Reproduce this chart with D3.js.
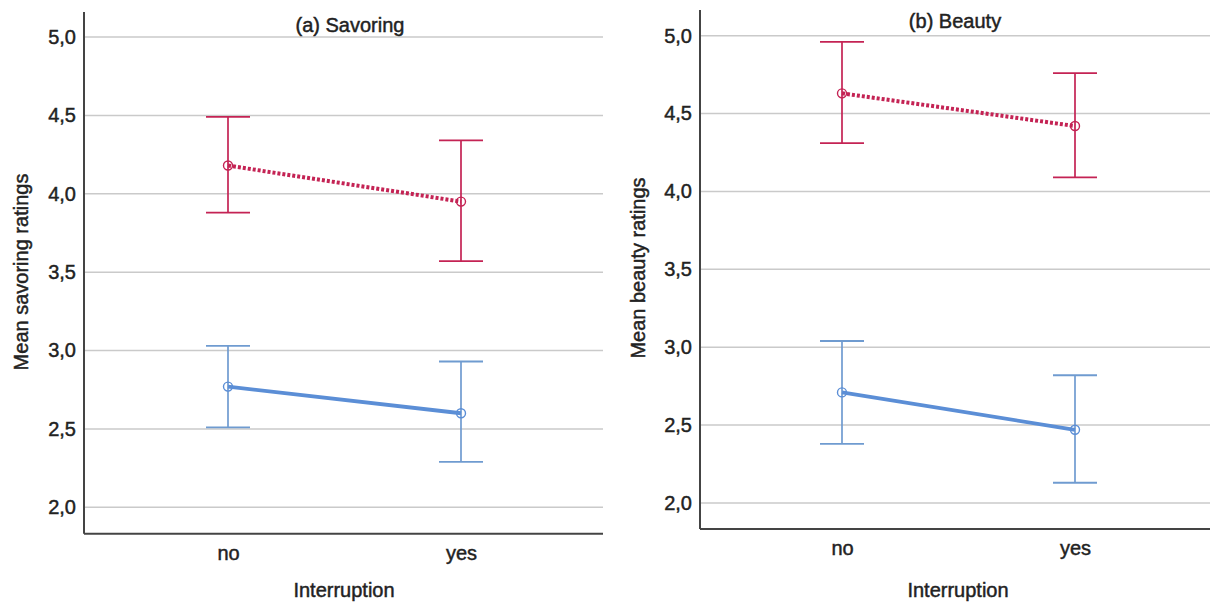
<!DOCTYPE html>
<html><head><meta charset="utf-8">
<script src="https://cdn.jsdelivr.net/npm/d3@7"></script>
<style>
body{margin:0;background:#fff;}
text{font-family:"Liberation Sans",Arial,sans-serif;}
</style></head>
<body><svg id="chart" width="1210" height="606"></svg>
<script>
const categories = ["no", "yes"];
const yTicks = [2.0, 2.5, 3.0, 3.5, 4.0, 4.5, 5.0];
const panelTitles = ["(a) Savoring", "(b) Beauty"];
const yLabels = ["Mean savoring ratings", "Mean beauty ratings"];
const xLabel = "Interruption";

// Savoring
const savorHighMean = [4.18, 3.95];
const savorHighLow = [3.88, 3.57];
const savorHighUp = [4.49, 4.34];
const savorLowMean = [2.77, 2.60];
const savorLowLow = [2.51, 2.29];
const savorLowUp = [3.03, 2.93];

// Beauty
const beautyHighMean = [4.63, 4.42];
const beautyHighLow = [4.31, 4.09];
const beautyHighUp = [4.96, 4.76];
const beautyLowMean = [2.71, 2.47];
const beautyLowLow = [2.38, 2.13];
const beautyLowUp = [3.04, 2.82];

const RED = "#c42354", BLUE = "#5b8ed6", BLUE_BAR = "#6f9bd0";
const FS = 20;
const svg = d3.select("#chart");

function styleText(sel) {
  sel.attr("font-size", FS).attr("fill", "#222").attr("stroke", "#222").attr("stroke-width", 0.45)
    .attr("font-family", "Liberation Sans, Arial, sans-serif");
}

function panel(o) {
  const y = d3.scaleLinear().domain([2.0, 5.0]).range([o.y2, o.y5]);
  const x = d3.scalePoint().domain(categories).range([o.xNo, o.xYes]);
  const g = svg.append("g");
  g.selectAll(".grid").data(yTicks).enter().append("line")
    .attr("x1", o.left).attr("x2", o.right)
    .attr("y1", d => y(d)).attr("y2", d => y(d))
    .attr("stroke", "#cacaca").attr("stroke-width", 1.5);
  const ya = g.append("g").attr("transform", `translate(${o.left},0)`)
    .call(d3.axisLeft(y).tickValues(yTicks).tickSize(0).tickPadding(8)
      .tickFormat(d => d3.format(".1f")(d).replace(".", ",")));
  ya.select(".domain").remove();
  styleText(ya.selectAll("text"));
  g.append("line").attr("x1", o.left).attr("x2", o.left).attr("y1", o.top0).attr("y2", o.bottom)
    .attr("stroke", "#444").attr("stroke-width", 2);
  const xa = g.append("g").attr("transform", `translate(0,${o.bottom})`)
    .call(d3.axisBottom(x).tickSize(0).tickPadding(12));
  xa.select(".domain").remove();
  styleText(xa.selectAll("text"));
  g.append("line").attr("x1", o.left).attr("x2", o.right).attr("y1", o.bottom).attr("y2", o.bottom)
    .attr("stroke", "#444").attr("stroke-width", 2);

  function series(mean, lo, up, color, barColor, dash, width) {
    const data = categories.map((c, i) => ({c, m: mean[i], l: lo[i], u: up[i]}));
    const eb = g.append("g");
    data.forEach(d => {
      eb.append("line").attr("x1", x(d.c)).attr("x2", x(d.c)).attr("y1", y(d.l)).attr("y2", y(d.u))
        .attr("stroke", barColor).attr("stroke-width", 1.7);
      [d.l, d.u].forEach(v => eb.append("line").attr("x1", x(d.c) - 22).attr("x2", x(d.c) + 22)
        .attr("y1", y(v)).attr("y2", y(v)).attr("stroke", barColor).attr("stroke-width", 1.8));
    });
    g.append("path").datum(data)
      .attr("d", d3.line().x(d => x(d.c)).y(d => y(d.m)))
      .attr("fill", "none").attr("stroke", color).attr("stroke-width", width)
      .attr("stroke-dasharray", dash);
    g.selectAll(null).data(data).enter().append("circle")
      .attr("cx", d => x(d.c)).attr("cy", d => y(d.m)).attr("r", 4.5)
      .attr("fill", "none").attr("stroke", color).attr("stroke-width", 1.4);
  }
  series(o.hm, o.hl, o.hu, RED, RED, "3,2", 4);
  series(o.lm, o.ll, o.lu, BLUE, BLUE_BAR, null, 3.8);

  styleText(g.append("text").attr("x", o.titleX).attr("y", o.titleY)
    .attr("text-anchor", "middle").text(o.title));
  styleText(g.append("text").attr("x", o.xLabX).attr("y", 597)
    .attr("text-anchor", "middle").text(xLabel));
  styleText(g.append("text").attr("transform", `translate(${o.yLabX},${o.yLabY}) rotate(-90)`)
    .attr("text-anchor", "middle").text(o.yLabel));
}

panel({left: 84, right: 603, top0: 12, bottom: 533.7, xNo: 228, xYes: 461,
  y2: 507.3, y5: 37,
  hm: savorHighMean, hl: savorHighLow, hu: savorHighUp,
  lm: savorLowMean, ll: savorLowLow, lu: savorLowUp,
  title: panelTitles[0], titleX: 350, titleY: 32, xLabX: 344,
  yLabX: 28, yLabY: 272, yLabel: yLabels[0]});

panel({left: 700, right: 1210, top0: 10, bottom: 529, xNo: 842, xYes: 1075,
  y2: 503, y5: 35.7,
  hm: beautyHighMean, hl: beautyHighLow, hu: beautyHighUp,
  lm: beautyLowMean, ll: beautyLowLow, lu: beautyLowUp,
  title: panelTitles[1], titleX: 955, titleY: 28, xLabX: 958,
  yLabX: 645, yLabY: 268, yLabel: yLabels[1]});
</script>
</body></html>
